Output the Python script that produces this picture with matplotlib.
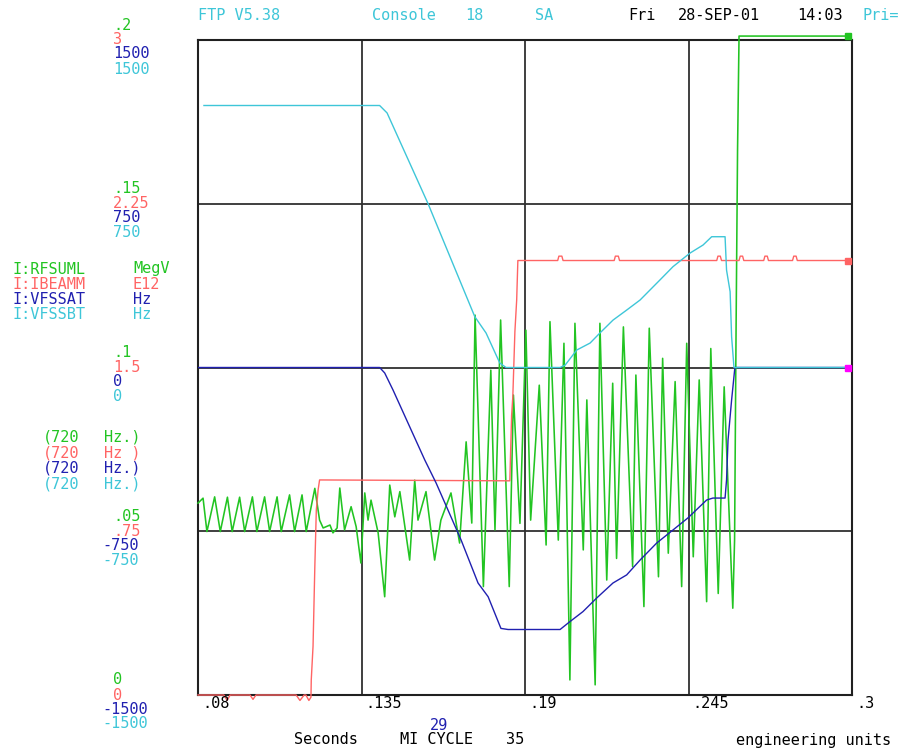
import matplotlib
matplotlib.use("Agg")
import matplotlib.pyplot as plt
import matplotlib.transforms as mtransforms

# ---- data -------------------------------------------------------------
# I:RFSUML (MegV)
green_t = [0.0800, 0.0817, 0.0830, 0.0856, 0.0875, 0.0899, 0.0915, 0.0940, 0.0957, 0.0983,
           0.0998, 0.1024, 0.1041, 0.1066, 0.1080, 0.1108, 0.1125, 0.1150, 0.1164, 0.1193,
           0.1209, 0.1221, 0.1244, 0.1254, 0.1268, 0.1277, 0.1293, 0.1315, 0.1332, 0.1348,
           0.1361, 0.1372, 0.1382, 0.1406, 0.1428, 0.1445, 0.1462, 0.1479, 0.1512, 0.1529,
           0.1540, 0.1567, 0.1596, 0.1617, 0.1651, 0.1680,
           0.1702, 0.1721, 0.1732, 0.1760, 0.1785, 0.1799, 0.1818, 0.1847, 0.1861, 0.1883,
           0.1903, 0.1919, 0.1948, 0.1971, 0.1984, 0.2012, 0.2031, 0.2051, 0.2068, 0.2096,
           0.2108, 0.2136, 0.2152, 0.2175, 0.2195, 0.2208, 0.2231, 0.2262, 0.2273, 0.2300,
           0.2318, 0.2349, 0.2363, 0.2382, 0.2405, 0.2427, 0.2444, 0.2466, 0.2486, 0.2511,
           0.2525, 0.2550, 0.2570, 0.2599,
           0.2605, 0.2610, 0.2615, 0.2620, 0.2987]
green_v = [0.0586, 0.0601, 0.0499, 0.0605, 0.0499, 0.0604, 0.0499, 0.0604, 0.0499, 0.0605,
           0.0499, 0.0605, 0.0499, 0.0605, 0.0499, 0.0611, 0.0499, 0.0611, 0.0499, 0.0631,
           0.0534, 0.0510, 0.0519, 0.0495, 0.0510, 0.0632, 0.0504, 0.0575, 0.0514, 0.0403,
           0.0617, 0.0534, 0.0595, 0.0495, 0.0300, 0.0641, 0.0544, 0.0621, 0.0412, 0.0656,
           0.0534, 0.0621, 0.0412, 0.0534, 0.0617, 0.0464,
           0.0773, 0.0525, 0.1160, 0.0331, 0.0992, 0.0504, 0.1145, 0.0331, 0.0916, 0.0524,
           0.1114, 0.0534, 0.0946, 0.0458, 0.1140, 0.0473, 0.1074, 0.0046, 0.1135, 0.0443,
           0.0901, 0.0031, 0.1135, 0.0351, 0.0952, 0.0417, 0.1124, 0.0392, 0.0977, 0.0270,
           0.1120, 0.0361, 0.1028, 0.0433, 0.0957, 0.0331, 0.1074, 0.0422, 0.0962, 0.0285,
           0.1058, 0.0310, 0.0941, 0.0265,
           0.0473, 0.1114, 0.1664, 0.2012, 0.2012]

# I:IBEAMM (E12)
red_t = [0.0800, 0.0887, 0.0898, 0.0908, 0.0975, 0.0985, 0.0995, 0.1130, 0.1143, 0.1157,
         0.1163, 0.1173, 0.1180,
         0.1181, 0.1187, 0.1193, 0.1198, 0.1204, 0.1209,
         0.1849, 0.1851, 0.1855, 0.1859, 0.1866, 0.1872, 0.1876,
         0.2010, 0.2014, 0.2024, 0.2028,
         0.2200, 0.2204, 0.2214, 0.2218,
         0.2545, 0.2549, 0.2557, 0.2561,
         0.2620, 0.2624, 0.2632, 0.2636,
         0.2703, 0.2707, 0.2715, 0.2719,
         0.2800, 0.2804, 0.2812, 0.2816,
         0.2987]
red_v = [0.00, 0.00, -0.025, 0.00, 0.00, -0.02, 0.00, 0.00, -0.025, 0.00,
         0.00, -0.025, -0.01,
         0.069, 0.224, 0.588, 0.847, 0.939, 0.985,
         0.981, 1.085, 1.282, 1.366, 1.664, 1.809, 1.99,
         1.99, 2.01, 2.01, 1.99,
         1.99, 2.01, 2.01, 1.99,
         1.99, 2.01, 2.01, 1.99,
         1.99, 2.01, 2.01, 1.99,
         1.99, 2.01, 2.01, 1.99,
         1.99, 2.01, 2.01, 1.99,
         1.99]

# I:VFSSAT (Hz)
blue_t = [0.0800, 0.1411, 0.1428, 0.1456, 0.1563, 0.1601, 0.1641, 0.1685, 0.1742, 0.1776,
          0.1819, 0.1843, 0.2018, 0.2051, 0.2095, 0.2141, 0.2196, 0.2242, 0.2287, 0.2343,
          0.2398, 0.2448, 0.2511, 0.2532, 0.2573, 0.2578, 0.2583, 0.2595, 0.2606, 0.2987]
blue_v = [0, 0, -25, -103, -424, -529, -653, -790, -987, -1050,
          -1195, -1200, -1200, -1164, -1118, -1056, -987, -950, -882, -804,
          -744, -689, -607, -598, -598, -515, -332, -149, 0, 0]

# I:VFSSBT (Hz)
cyan_t = [0.0820, 0.1411, 0.1436, 0.1574, 0.1731, 0.1769, 0.1815, 0.1836, 0.2018, 0.2035,
          0.2074, 0.2119, 0.2152, 0.2196, 0.2242, 0.2287, 0.2354, 0.2398, 0.2455, 0.2499,
          0.2528, 0.2573, 0.2578, 0.2590, 0.2595, 0.2603, 0.2987]
cyan_v = [1200, 1200, 1166, 750, 233, 158, 21, 0, 0, 11,
          80, 112, 158, 217, 263, 309, 401, 462, 524, 561,
          599, 599, 446, 347, 141, 0, 0]

x_ticks = [0.08, 0.135, 0.19, 0.245, 0.3]
x_labels = ['.08', '.135', '.19', '.245', '.3']
green_levels = [0.2, 0.15, 0.1, 0.05, 0.0]
green_labels = ['.2', '.15', '.1', '.05', '0']
red_labels = ['3', '2.25', '1.5', '.75', '0']
blue_labels = ['1500', '750', '0', '-750', '-1500']
cyan_labels = ['1500', '750', '0', '-750', '-1500']

GREEN = '#22c422'
RED = '#ff6464'
BLUE = '#2020b0'
CYAN = '#3ec6d8'
MAGENTA = '#ff00ff'
MONO = 'DejaVu Sans Mono'
FS = 11

W, H = 902, 750
fig = plt.figure(figsize=(W / 100, H / 100), dpi=100)
fig.patch.set_facecolor('white')

ax = fig.add_axes([198 / W, 55 / H, 654 / W, 655 / H])
ax.set_xlim(0.08, 0.3)
ax.set_ylim(0.0, 0.2)
ax.set_xticks(x_ticks[1:-1])
ax.set_yticks(green_levels[1:-1])
ax.tick_params(length=0, labelbottom=False, labelleft=False)
ax.grid(True, color='#303030', linewidth=1.3)
ax.set_axisbelow(True)
for sp in ax.spines.values():
    sp.set_color('#202020')
    sp.set_linewidth(1.5)

ax_r = ax.twinx()
ax_b = ax.twinx()
ax_c = ax.twinx()
for a, lim in ((ax_r, (0, 3)), (ax_b, (-1500, 1500)), (ax_c, (-1500, 1500))):
    a.set_ylim(*lim)
    a.set_yticks([])
    for sp in a.spines.values():
        sp.set_visible(False)

lw = 1.0
ax.plot(green_t, green_v, color=GREEN, lw=1.15, clip_on=False, zorder=3)
ax.plot(green_t[-1:], green_v[-1:], 's', color=GREEN, ms=5, clip_on=False, zorder=4)
ax_r.plot(red_t, red_v, color=RED, lw=lw, clip_on=False)
ax_r.plot(red_t[-1:], red_v[-1:], 's', color=RED, ms=5, clip_on=False)
ax_b.plot(blue_t, blue_v, color=BLUE, lw=lw)
ax_c.plot(cyan_t, cyan_v, color=CYAN, lw=lw)
ax_c.plot(cyan_t[-1:], cyan_v[-1:], 's', color=MAGENTA, ms=4, clip_on=False)


def put(x, y, s, color, **kw):
    fig.text(x / W, 1 - y / H, s, color=color, ha='left', va='center',
             fontsize=FS, family=MONO, **kw)


# header
put(198, 16, 'FTP V5.38', CYAN)
put(372, 16, 'Console', CYAN)
put(465, 16, '18', CYAN)
put(535, 16, 'SA', CYAN)
put(628, 16, 'Fri', 'black')
put(678, 16, '28-SEP-01', 'black')
put(797, 16, '14:03', 'black')
put(863, 16, 'Pri=', CYAN)

# stacked scale labels beside each horizontal grid level
lab_trans = mtransforms.blended_transform_factory(fig.transFigure, ax.transData)
offsets = [15, 0, -14, -29]
colors = [GREEN, RED, BLUE, CYAN]
for i, lvl in enumerate(green_levels):
    texts = [green_labels[i], red_labels[i], blue_labels[i], cyan_labels[i]]
    for s, off, col in zip(texts, offsets, colors):
        xpx = 102 if s.startswith('-') else 113
        tr = mtransforms.offset_copy(lab_trans, fig=fig, x=0, y=off, units='dots')
        fig.text(xpx / W, lvl, s, color=col, transform=tr, ha='left',
                 va='center', fontsize=FS, family=MONO)

# channel legend
names = ['I:RFSUML', 'I:IBEAMM', 'I:VFSSAT', 'I:VFSSBT']
units = ['MegV', 'E12', 'Hz', 'Hz']
for k, (n, u, col) in enumerate(zip(names, units, colors)):
    y = 269 + 15.3 * k
    put(12, y, n, col)
    put(133, y, u, col)

freq = ['Hz.)', 'Hz )', 'Hz.)', 'Hz.)']
for k, (f, col) in enumerate(zip(freq, colors)):
    y = 437 + 15.7 * k
    put(43, y, '(720', col)
    put(104, y, f, col)

# x tick labels
for xv, s in zip(x_ticks, x_labels):
    tr = mtransforms.offset_copy(
        mtransforms.blended_transform_factory(ax.transData, fig.transFigure),
        fig=fig, x=4, y=0, units='dots')
    fig.text(xv, 1 - 704 / H, s, color='black', transform=tr, ha='left',
             va='center', fontsize=FS, family=MONO)

put(430, 726, '29', BLUE)
put(294, 740, 'Seconds', 'black')
put(400, 740, 'MI CYCLE', 'black')
put(506, 740, '35', 'black')
put(736, 740, 'engineering units', 'black')

fig.savefig('out.png', dpi=100, facecolor='white')
